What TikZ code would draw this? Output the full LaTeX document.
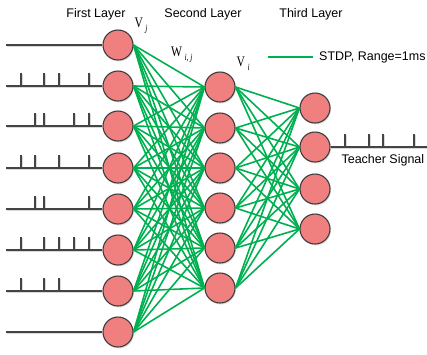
\documentclass[tikz,border=0pt]{standalone}
\usepackage{fontspec}
\setmainfont{Liberation Sans}
\newfontfamily\symfont[FakeStretch=0.8]{Liberation Serif}
\usetikzlibrary{shadows}
\definecolor{neuron}{HTML}{F08080}
\definecolor{rim}{HTML}{3C3C3C}
\definecolor{syn}{HTML}{00B050}
\definecolor{wire}{HTML}{444444}
\newcommand{\subidx}[1]{\raisebox{-4pt}{\fontsize{9.5}{9.5}\selectfont\itshape #1}}
\begin{document}
\begin{tikzpicture}[x=1pt,y=-1pt,
  neuronbox/.style={circle, draw=rim, line width=1.1pt, fill=neuron,
    minimum size=30pt, inner sep=0pt,
    drop shadow={shadow xshift=1pt, shadow yshift=-1.5pt, opacity=0.25}},
  synapse/.style={draw=syn, line width=1.6pt},
  spikeline/.style={draw=wire, line width=1.3pt},
  spikeshadow/.style={draw=black!15, line width=1.3pt},
  layerlabel/.style={font=\fontsize{12.5}{14}\selectfont},
  varlabel/.style={font=\symfont\fontsize{14.5}{15}\selectfont, inner sep=0pt}]
\useasboundingbox (0,0) rectangle (427,354);

% neuron positions
\foreach \i/\y in {1/45,2/86,3/126,4/168,5/209,6/250,7/291,8/332}
  \coordinate (pa\i) at (118,\y);
\foreach \i/\y in {1/87,2/128,3/168,4/208,5/248,6/288}
  \coordinate (pb\i) at (220,\y);
\foreach \i/\y in {1/108,2/147,3/189,4/229}
  \coordinate (pc\i) at (315,\y);

% neurons: first, second and third layer
\foreach \i in {1,...,8} \node[neuronbox] (a\i) at (pa\i) {};
\foreach \i in {1,...,6} \node[neuronbox] (b\i) at (pb\i) {};
\foreach \i in {1,...,4} \node[neuronbox] (c\i) at (pc\i) {};

% synapses (full connectivity between neighbouring layers)
\foreach \i in {1,...,8}
  \foreach \j in {1,...,6}
    \draw[synapse] (a\i.east) -- (b\j.west);
\foreach \i in {1,...,6}
  \foreach \j in {1,...,4}
    \draw[synapse] (b\i.east) -- (c\j.west);

% input spike trains
\foreach \i/\y/\ticks in {2/86/{21,44,59,89},3/126/{35,44,74,89},
    4/168/{21,35,59,89},5/209/{35,44,89},6/250/{21,44,59,74,89},
    7/291/{21,44,59}}{
  \foreach \t in \ticks {
    \draw[spikeshadow] (\t+1.3,\y+1) -- (\t+1.3,\y-12.5);
    \draw[spikeline] (\t,\y) -- (\t,\y-13.5);
  }
}
\foreach \i/\y in {1/45,2/86,3/126,4/168,5/209,6/250,7/291,8/332}{
  \coordinate (s\i) at (6,\y);
  \draw[spikeshadow] ([shift={(1,1.3)}]s\i) -- ([shift={(0,1.3)}]a\i.west);
  \draw[spikeline] (s\i) -- (a\i.west);
}

% teacher signal
\coordinate (tend) at (430,147);
\foreach \t in {345,369,383,414}{
  \draw[spikeshadow] (\t+1.3,148) -- (\t+1.3,134.5);
  \draw[spikeline] (\t,147) -- (\t,133.5);
}
\draw[spikeshadow] ([shift={(0,1.3)}]c2.east) -- ([shift={(0,1.3)}]tend);
\draw[spikeline] (c2.east) -- (tend);
\node[layerlabel, anchor=west] (teach) at (338,160) {Teacher Signal};

% layer titles
\node[layerlabel] (l1) at (96,14) {First Layer};
\node[layerlabel] (l2) at (203,14) {Second Layer};
\node[layerlabel] (l3) at (311,14) {Third Layer};

% variable labels
\node[varlabel, anchor=south west] (vj) at (134.5,33.5) {V\,\subidx{j}};
\node[varlabel, anchor=south west] (wij) at (171,62.5) {W\,\subidx{i, j}};
\node[varlabel, anchor=south west] (vi) at (236.5,71) {V\,\subidx{i}};

% legend
\coordinate (lg1) at (268,57);
\coordinate (lg2) at (313,57);
\draw[synapse] (lg1) -- (lg2);
\node[layerlabel, anchor=west, inner sep=0pt] (lgtext) at (319,57) {STDP, Range=1ms};
\end{tikzpicture}
\end{document}
